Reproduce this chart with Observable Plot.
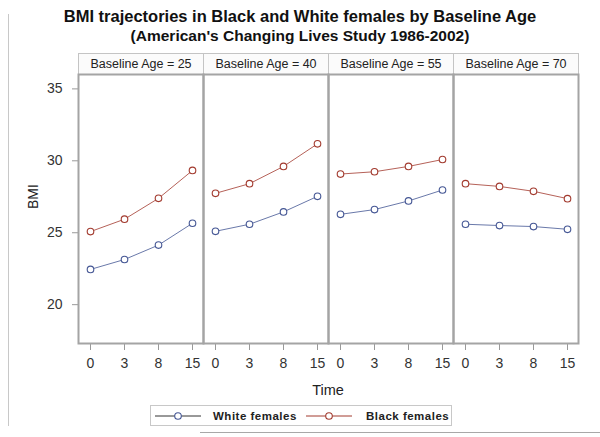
<!DOCTYPE html>
<html>
<head>
<meta charset="utf-8">
<script src="https://cdn.jsdelivr.net/npm/d3@7"></script>
<script src="https://cdn.jsdelivr.net/npm/@observablehq/plot@0.6"></script>
<style>
  body { margin: 0; background: #fff; font-family: "Liberation Sans", Arial, sans-serif; }
  #wrap { position: relative; width: 600px; height: 437px; overflow: hidden; }
  #title { position: absolute; top: 7px; left: 0; width: 600px; text-align: center; font-weight: bold; font-size: 16.5px; color: #111; }
  #subtitle { position: absolute; top: 27px; left: 0; width: 600px; text-align: center; font-weight: bold; font-size: 15.5px; color: #111; }
  #chart { position: absolute; top: 0; left: 0; }
  #legend { position: absolute; top: 405px; left: 150px; width: 302px; height: 21px; border: 1px solid #c8c8c8; box-sizing: border-box; font-size: 11.5px; font-weight: bold; letter-spacing: 0.4px; color: #222; }
  .edge { position: absolute; background: #c8c8c8; }
</style>
</head>
<body>
<div id="wrap">
  <div class="edge" style="left:8px; top:14px; width:1px; height:412px;"></div>
  <div class="edge" style="left:200px; top:432px; width:400px; height:1px; background:#a8a8a8;"></div>
  <div id="chart"></div>
  <div id="title">BMI trajectories in Black and White females by Baseline Age</div>
  <div id="subtitle">(American's Changing Lives Study 1986-2002)</div>
  <div id="legend"></div>
</div>
<script>
// ---- data ----
const ages = [25, 40, 55, 70];
const times = ["0", "3", "8", "15"];
const groups = ["White females", "Black females"];
const colors = ["#445694", "#A23A2E"];
const whiteBMI = {
  25: [22.45, 23.14, 24.14, 25.66],
  40: [25.10, 25.59, 26.45, 27.53],
  55: [26.28, 26.61, 27.21, 27.97],
  70: [25.59, 25.50, 25.43, 25.24]
};
const blackBMI = {
  25: [25.08, 25.94, 27.39, 29.33],
  40: [27.74, 28.41, 29.61, 31.18],
  55: [29.08, 29.24, 29.61, 30.09],
  70: [28.41, 28.22, 27.88, 27.37]
};
const yTicks = [20, 25, 30, 35];

const rows = [];
for (const age of ages) {
  times.forEach((t, i) => {
    rows.push({age, time: t, group: groups[0], bmi: whiteBMI[age][i]});
    rows.push({age, time: t, group: groups[1], bmi: blackBMI[age][i]});
  });
}
const headers = ages.map(age => ({age, label: `Baseline Age = ${age}`}));

const W = 600, H = 400, MT = 74, MB = 57, ML = 77, MR = 21;
const plotH = H - MT - MB;

const chart = Plot.plot({
  width: W, height: H,
  marginTop: MT, marginBottom: MB, marginLeft: ML, marginRight: MR,
  style: { fontFamily: "Liberation Sans, Arial, sans-serif", fontSize: "13px", color: "#333", background: "transparent" },
  fx: { domain: ages, padding: 0, axis: null },
  x: { type: "point", domain: times, padding: 0.31 },
  y: { domain: [17.3, 36], ticks: yTicks },
  color: { domain: groups, range: colors },
  marks: [
    Plot.frame({ fill: "#fbfbfb", stroke: "#c4c4c4", strokeWidth: 1, insetTop: -21, insetBottom: plotH }),
    Plot.text(headers, { fx: "age", text: "label", frameAnchor: "top", lineAnchor: "middle", dy: -11, fontSize: 12.5, fill: "#222" }),
    Plot.axisY({ ticks: yTicks, tickSize: 6, tickPadding: 10, fontSize: 14, stroke: "#999", label: null, facetAnchor: "left" }),
    Plot.text(["BMI"], { frameAnchor: "left", dx: -45, rotate: -90, fontSize: 14, fill: "#222", fx: () => ages[0] }),
    Plot.axisX({ tickSize: 6, tickPadding: 8, fontSize: 14, stroke: "#999", label: null, dy: 1 }),
    Plot.frame({ stroke: "#a4a4a4", strokeWidth: 2 }),
    Plot.line(rows, { fx: "age", x: "time", y: "bmi", z: "group", stroke: "group", strokeWidth: 1, strokeOpacity: 0.8 }),
    Plot.dot(rows, { fx: "age", x: "time", y: "bmi", stroke: "group", fill: "white", r: 3.3, strokeWidth: 1.1 })
  ]
});
document.getElementById("chart").appendChild(chart);

// x axis label "Time" centred under the facets
const svg = d3.select(chart);
svg.append("text")
  .attr("x", ML + (W - ML - MR) / 2).attr("y", 395)
  .attr("text-anchor", "middle")
  .attr("font-size", 14.5).attr("fill", "#222")
  .text("Time");

// legend
const leg = d3.select("#legend").append("svg").attr("width", 300).attr("height", 19);
const items = [{x: 4, tx: 62}, {x: 155, tx: 215}];
groups.forEach((g, i) => {
  const it = items[i];
  leg.append("line").attr("x1", it.x).attr("x2", it.x + 46).attr("y1", 10).attr("y2", 10)
    .attr("stroke", i === 0 ? "#333" : colors[1]).attr("stroke-width", 1);
  leg.append("circle").attr("cx", it.x + 23).attr("cy", 10).attr("r", 3.3)
    .attr("fill", "white").attr("stroke", colors[i]).attr("stroke-width", 1.1);
  leg.append("text").attr("x", it.tx).attr("y", 14).attr("font-size", 11.5).attr("font-weight", "bold")
    .attr("letter-spacing", 0.5).attr("fill", "#222").text(g);
});
</script>
</body>
</html>
